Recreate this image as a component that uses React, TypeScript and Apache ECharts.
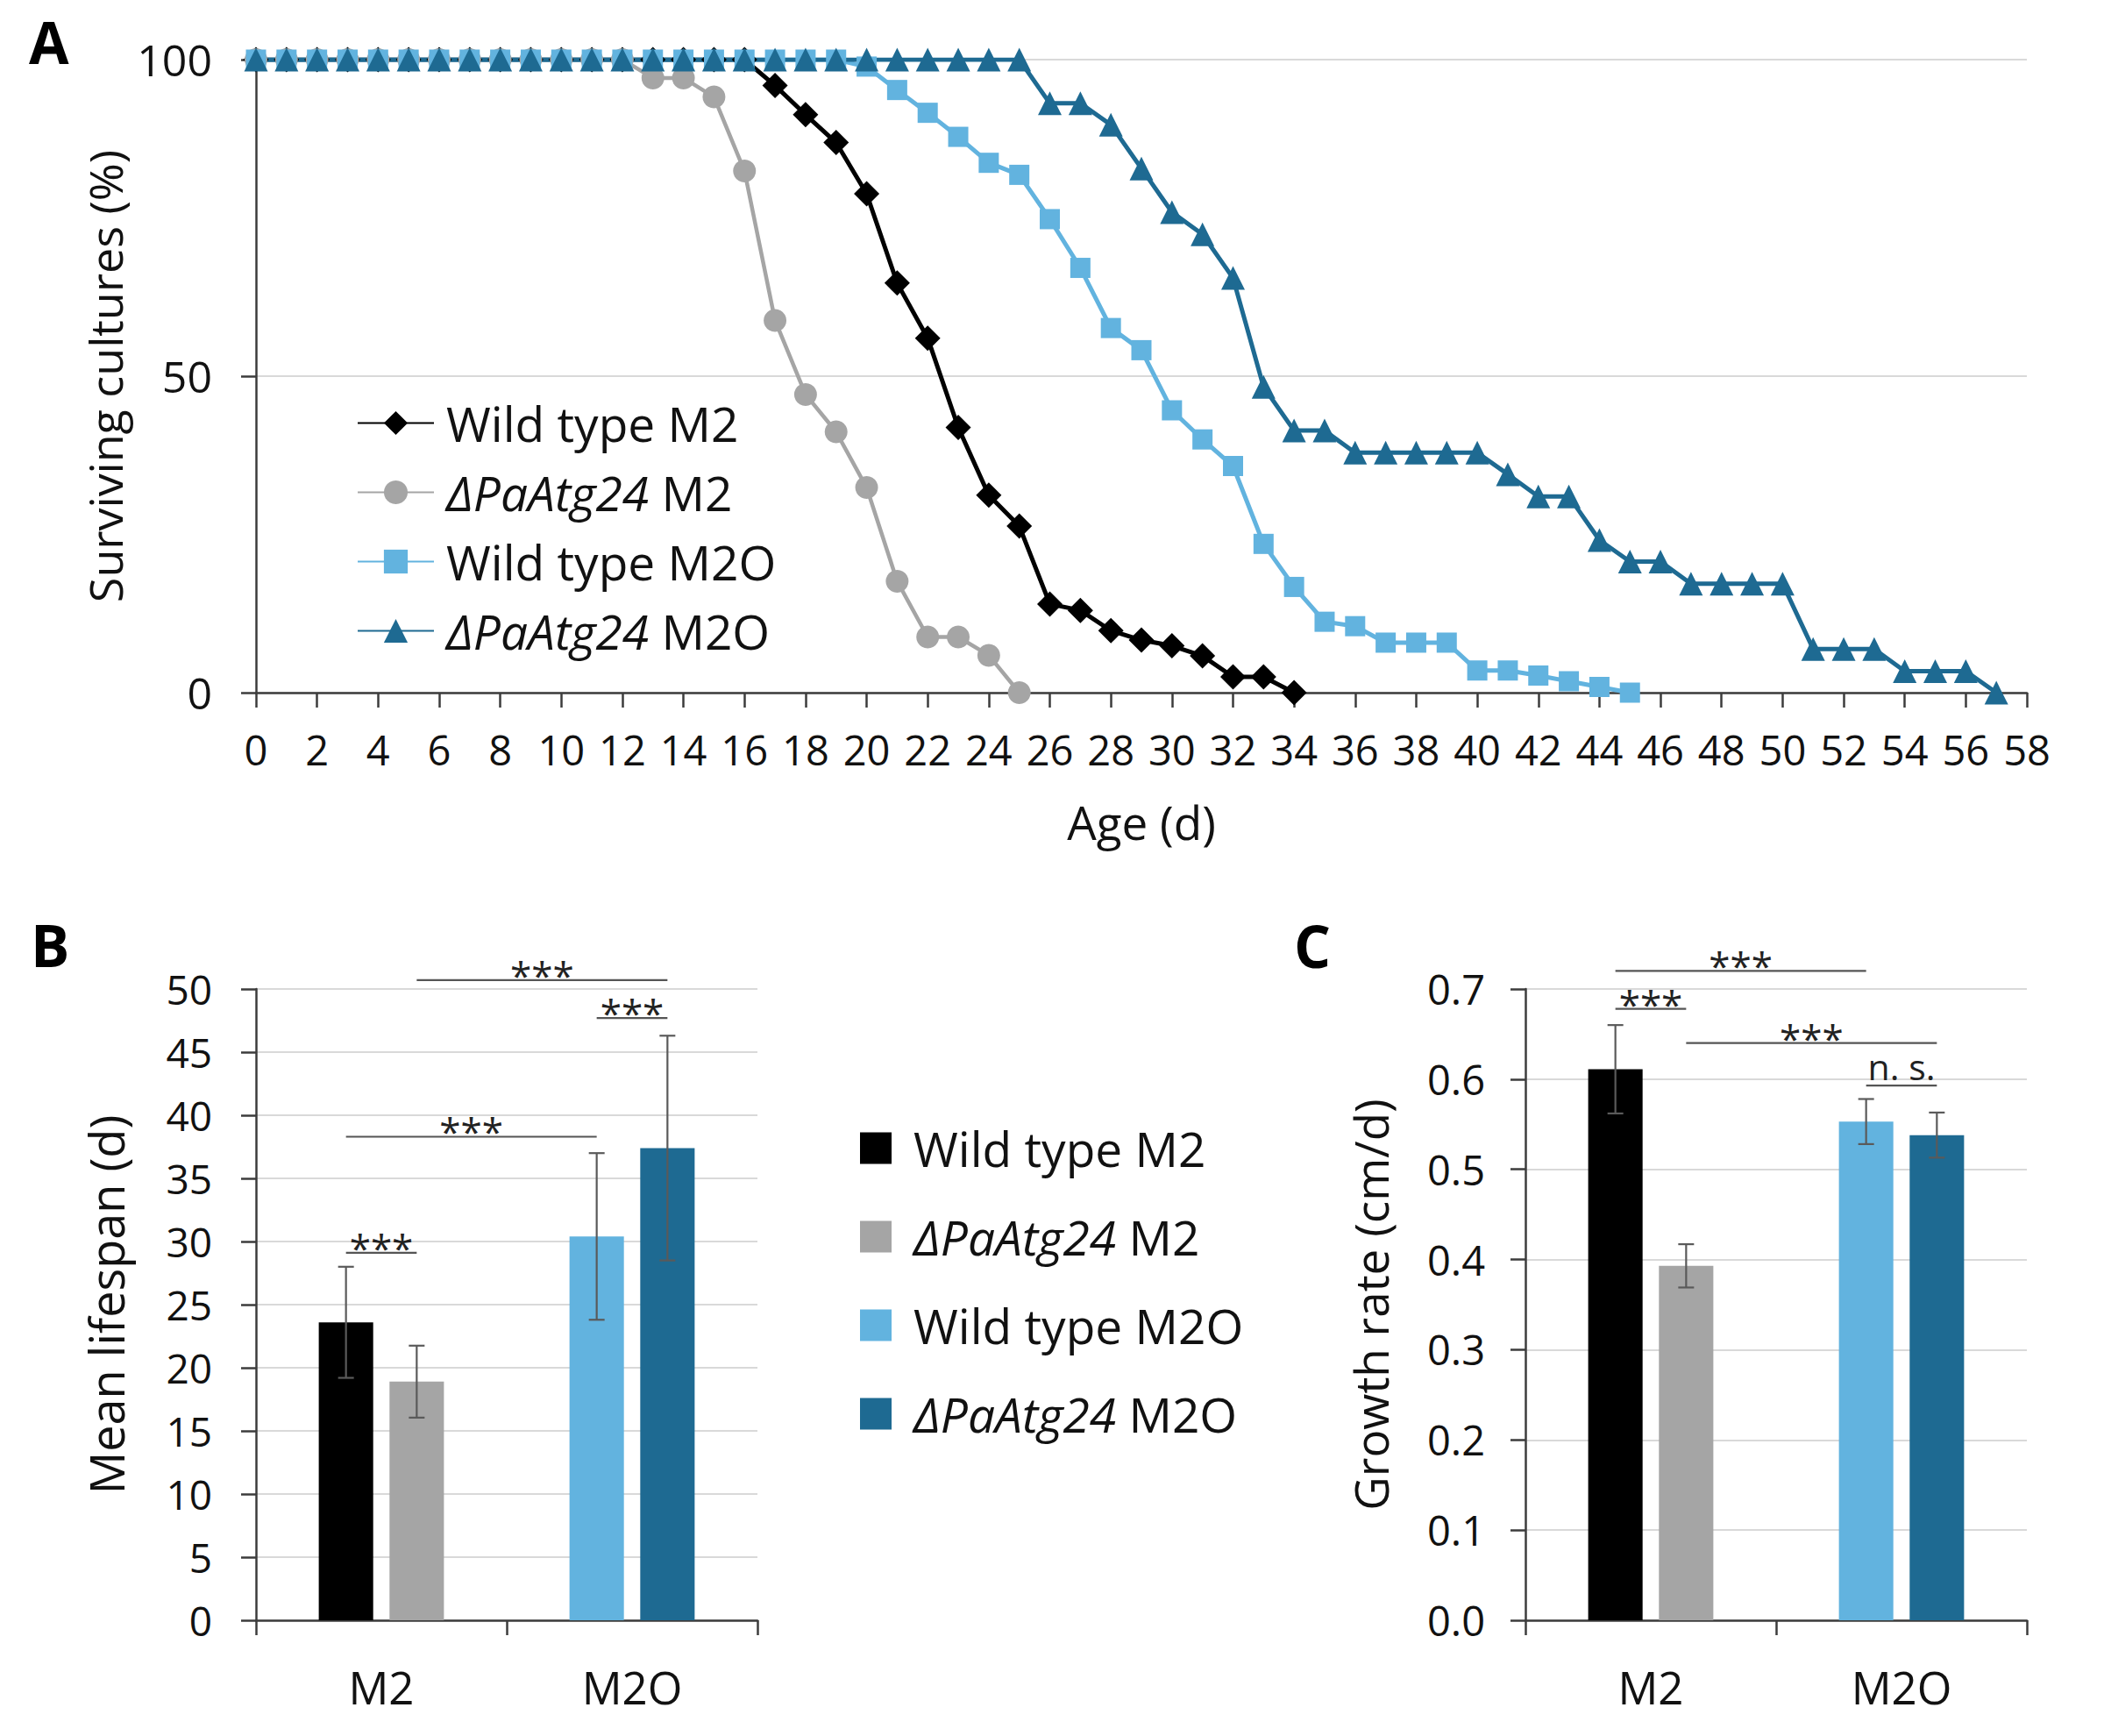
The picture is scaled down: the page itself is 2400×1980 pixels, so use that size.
import React, { useEffect, useRef } from "react";
import * as echarts from "echarts";

const FONT = '"Open Sans", "Noto Sans", "DejaVu Sans", sans-serif';
const TEXT = "#111111";
const AXIS = "#3c3c3c";
const GRIDC = "#d9d9d9";
const ERRC = "#5a5a5a";
const COLORS = ["#000000", "#a5a5a5", "#62b3df", "#1e6a92"];
const SYMBOLS = ["diamond", "circle", "rect", "triangle"];
const SYMBOL_SIZES = [29, 26, 23, 27];
const LINE_WIDTHS = [5, 4.5, 5, 5];

const SERIES_NAMES = ["Wild type M2", "ΔPaAtg24 M2", "Wild type M2O", "ΔPaAtg24 M2O"];
const BAR_NAMES = SERIES_NAMES.map((n) => "bar:" + n);

// Panel A: surviving cultures (%) per day (index = age in days)
const WT_M2 = [
  100, 100, 100, 100, 100, 100, 100, 100, 100, 100, 100, 100, 100, 100, 100, 100, 100,
  95.9, 91.3, 86.9, 78.8, 64.7, 56.0, 41.9, 31.2, 26.3, 14.0, 13.0, 9.8, 8.3, 7.4, 5.8, 2.5, 2.5, 0,
];
const DEL_M2 = [
  100, 100, 100, 100, 100, 100, 100, 100, 100, 100, 100, 100, 100,
  97.1, 97.1, 94.1, 82.4, 58.8, 47.1, 41.2, 32.4, 17.6, 8.8, 8.8, 5.9, 0,
];
const WT_M2O = [
  100, 100, 100, 100, 100, 100, 100, 100, 100, 100, 100, 100, 100, 100, 100, 100, 100, 100, 100, 100,
  98.9, 95.2, 91.6, 87.8, 83.7, 81.8, 74.8, 67.1, 57.6, 54.1, 44.6, 40.0, 35.8, 23.5, 16.7, 11.2,
  10.5, 7.9, 7.9, 7.9, 3.5, 3.5, 2.7, 1.8, 0.9, 0,
];
const DEL_M2O = [
  100, 100, 100, 100, 100, 100, 100, 100, 100, 100, 100, 100, 100, 100, 100, 100, 100, 100, 100, 100,
  100, 100, 100, 100, 100, 100,
  93.1, 93.1, 89.7, 82.8, 75.9, 72.4, 65.5, 48.3, 41.4, 41.4, 37.9, 37.9, 37.9, 37.9, 37.9, 34.5,
  31.0, 31.0, 24.1, 20.7, 20.7, 17.2, 17.2, 17.2, 17.2, 6.9, 6.9, 6.9, 3.4, 3.4, 3.4, 0,
];
const SURVIVAL = [WT_M2, DEL_M2, WT_M2O, DEL_M2O];

// Panels B and C
const GROUPS = ["M2", "M2O"];
const BAR_CAT = [0, 0, 1, 1];
const BAR_SLOT = [-1, 1, -1, 1];

const LIFESPAN_MEAN = [23.6, 18.9, 30.4, 37.4];
const LIFESPAN_ERR = [4.4, 2.85, 6.6, 8.9];
const GROWTH_MEAN = [0.611, 0.393, 0.553, 0.538];
const GROWTH_ERR = [0.049, 0.024, 0.025, 0.025];

const B_BR_FROM = [0, 0, 2, 1];
const B_BR_TO = [1, 2, 3, 3];
const B_BR_Y = [29.1, 38.3, 47.7, 50.7];
const B_BR_LABEL = ["***", "***", "***", "***"];

const C_BR_FROM = [0, 0, 1, 2];
const C_BR_TO = [1, 2, 3, 3];
const C_BR_Y = [0.678, 0.72, 0.64, 0.593];
const C_BR_LABEL = ["***", "***", "***", "n. s."];

const BAR_W_FRAC = 0.217;
const BAR_GAP_FRAC = 0.3;
const OFFSET_FRAC = (BAR_W_FRAC * (1 + BAR_GAP_FRAC)) / 2;

function barX(api: any, cat: number, slot: number) {
  return api.coord([cat, 0])[0] + slot * api.size([1, 0])[0] * OFFSET_FRAC;
}

const errRender = (params: any, api: any) => {
  const cat = api.value(0);
  const m = api.value(1);
  const e = api.value(2);
  const slot = api.value(3);
  const x = barX(api, cat, slot);
  const yT = api.coord([cat, m + e])[1];
  const yB = api.coord([cat, m - e])[1];
  const cap = 9;
  const st = { stroke: ERRC, lineWidth: 2.2 };
  return {
    type: "group",
    children: [
      { type: "line", shape: { x1: x, y1: yT, x2: x, y2: yB }, style: st },
      { type: "line", shape: { x1: x - cap, y1: yT, x2: x + cap, y2: yT }, style: st },
      { type: "line", shape: { x1: x - cap, y1: yB, x2: x + cap, y2: yB }, style: st },
    ],
  };
};

const makeBracketRender = (froms: number[], tos: number[], labels: string[]) => (params: any, api: any) => {
  const i = params.dataIndex;
  const x1 = barX(api, BAR_CAT[froms[i]], BAR_SLOT[froms[i]]);
  const x2 = barX(api, BAR_CAT[tos[i]], BAR_SLOT[tos[i]]);
  const y = api.coord([0, api.value(1)])[1];
  const isStar = labels[i].indexOf("*") >= 0;
  return {
    type: "group",
    children: [
      { type: "line", shape: { x1, y1: y, x2, y2: y }, style: { stroke: "#555555", lineWidth: 2.2 } },
      {
        type: "text",
        style: {
          text: labels[i],
          x: (x1 + x2) / 2,
          y: y - (isStar ? 6 : 22),
          align: "center",
          verticalAlign: "middle",
          fontSize: isStar ? 44 : 41,
          fontFamily: FONT,
          fill: "#222222",
        },
      },
    ],
  };
};

const legendFormatter = (name: string) => {
  const n = name.replace("bar:", "");
  return n.indexOf("Δ") === 0 ? "{i|ΔPaAtg24}" + n.slice(8) : n;
};

const legendText = (size: number, padLeft: number) => ({
  fontSize: size,
  fontFamily: FONT,
  color: TEXT,
  padding: [0, 0, 0, padLeft],
  rich: { i: { fontStyle: "italic", fontSize: size, fontFamily: FONT, color: TEXT } },
});

const axisLineStyle = { show: true, lineStyle: { color: AXIS, width: 2.5 } };
const axisTickStyle = { show: true, length: 17, lineStyle: { color: AXIS, width: 2.5 } };

function buildOption() {
  const lineSeries = SURVIVAL.map((arr, k) => ({
    type: "line",
    name: SERIES_NAMES[k],
    xAxisIndex: 0,
    yAxisIndex: 0,
    data: arr.map((v, i) => [i, v]),
    symbol: SYMBOLS[k],
    symbolSize: SYMBOL_SIZES[k],
    showSymbol: true,
    lineStyle: { color: COLORS[k], width: LINE_WIDTHS[k] },
    itemStyle: { color: COLORS[k] },
    emphasis: { disabled: true },
  }));

  const barSeries = (axisIdx: number, means: number[], prefix: string) =>
    means.map((m, k) => ({
      type: "bar",
      name: BAR_NAMES[k],
      xAxisIndex: axisIdx,
      yAxisIndex: axisIdx,
      stack: prefix + (BAR_SLOT[k] < 0 ? "L" : "R"),
      data: GROUPS.map((g, c) => (c === BAR_CAT[k] ? m : "-")),
      barWidth: BAR_W_FRAC * 100 + "%",
      barGap: BAR_GAP_FRAC * 100 + "%",
      itemStyle: { color: COLORS[k] },
      emphasis: { disabled: true },
    }));

  const errSeries = (axisIdx: number, means: number[], errs: number[]) => ({
    type: "custom",
    xAxisIndex: axisIdx,
    yAxisIndex: axisIdx,
    data: means.map((m, k) => [BAR_CAT[k], m, errs[k], BAR_SLOT[k]]),
    encode: { x: 0, y: 1 },
    renderItem: errRender,
    silent: true,
    z: 5,
  });

  const bracketSeries = (axisIdx: number, ys: number[], froms: number[], tos: number[], labels: string[]) => ({
    type: "custom",
    xAxisIndex: axisIdx,
    yAxisIndex: axisIdx,
    data: ys.map((y, i) => [BAR_CAT[froms[i]], y]),
    encode: { x: 0, y: 1 },
    renderItem: makeBracketRender(froms, tos, labels),
    clip: false,
    silent: true,
    z: 6,
  });

  const yName = (name: string, gap: number, size: number) => ({
    name,
    nameLocation: "middle",
    nameGap: gap,
    nameTextStyle: { fontSize: size, fontFamily: FONT, color: TEXT },
  });

  return {
    animation: false,
    backgroundColor: "#ffffff",
    textStyle: { fontFamily: FONT },
    grid: [
      { left: 292, top: 68, width: 2020, height: 722, outerBoundsMode: "none" },
      { left: 292, top: 1128, width: 572, height: 720, outerBoundsMode: "none" },
      { left: 1740, top: 1128, width: 572, height: 720, outerBoundsMode: "none" },
    ],
    xAxis: [
      {
        gridIndex: 0,
        type: "value",
        min: 0,
        max: 58,
        interval: 2,
        axisLine: axisLineStyle,
        axisTick: axisTickStyle,
        splitLine: { show: false },
        axisLabel: { fontSize: 47, fontFamily: FONT, color: TEXT, margin: 41 },
        name: "Age (d)",
        nameLocation: "middle",
        nameGap: 121,
        nameTextStyle: { fontSize: 53, fontFamily: FONT, color: TEXT },
      },
      {
        gridIndex: 1,
        type: "category",
        data: GROUPS,
        axisLine: axisLineStyle,
        axisTick: { ...axisTickStyle, alignWithLabel: false },
        axisLabel: { fontSize: 51, fontFamily: FONT, color: TEXT, margin: 50 },
      },
      {
        gridIndex: 2,
        type: "category",
        data: GROUPS,
        axisLine: axisLineStyle,
        axisTick: { ...axisTickStyle, alignWithLabel: false },
        axisLabel: { fontSize: 51, fontFamily: FONT, color: TEXT, margin: 50 },
      },
    ],
    yAxis: [
      {
        gridIndex: 0,
        type: "value",
        min: 0,
        max: 100,
        interval: 50,
        axisLine: axisLineStyle,
        axisTick: axisTickStyle,
        splitLine: { show: true, lineStyle: { color: GRIDC, width: 2 } },
        axisLabel: { fontSize: 50, fontFamily: FONT, color: TEXT, margin: 50 },
        ...yName("Surviving cultures (%)", 146, 52),
      },
      {
        gridIndex: 1,
        type: "value",
        min: 0,
        max: 50,
        interval: 5,
        axisLine: axisLineStyle,
        axisTick: axisTickStyle,
        splitLine: { show: true, lineStyle: { color: GRIDC, width: 2 } },
        axisLabel: { fontSize: 46, fontFamily: FONT, color: TEXT, margin: 50 },
        ...yName("Mean lifespan (d)", 144, 54),
      },
      {
        gridIndex: 2,
        type: "value",
        min: 0,
        max: 0.7,
        interval: 0.1,
        axisLine: axisLineStyle,
        axisTick: axisTickStyle,
        splitLine: { show: true, lineStyle: { color: GRIDC, width: 2 } },
        axisLabel: {
          fontSize: 47,
          fontFamily: FONT,
          color: TEXT,
          margin: 46,
          formatter: (v: number) => v.toFixed(1),
        },
        ...yName("Growth rate (cm/d)", 150, 53),
      },
    ],
    legend: [
      {
        orient: "vertical",
        left: 402,
        top: 450,
        itemWidth: 87,
        itemHeight: 34,
        itemGap: 24,
        data: SERIES_NAMES,
        formatter: legendFormatter,
        textStyle: legendText(55, 9),
        selectedMode: false,
      },
      {
        orient: "vertical",
        left: 976,
        top: 1277,
        itemWidth: 36,
        itemHeight: 36,
        itemGap: 46,
        icon: "rect",
        data: BAR_NAMES,
        formatter: legendFormatter,
        textStyle: legendText(55, 20),
        selectedMode: false,
      },
    ],
    graphic: [
      { type: "text", left: 33, top: 14, style: { text: "A", font: 'bold 66px "Open Sans", sans-serif', fill: "#000" } },
      { type: "text", left: 35, top: 1044, style: { text: "B", font: 'bold 66px "Open Sans", sans-serif', fill: "#000" } },
      { type: "text", left: 1476, top: 1045, style: { text: "C", font: 'bold 66px "Open Sans", sans-serif', fill: "#000" } },
    ],
    series: [
      ...lineSeries,
      ...barSeries(1, LIFESPAN_MEAN, "B"),
      ...barSeries(2, GROWTH_MEAN, "C"),
      errSeries(1, LIFESPAN_MEAN, LIFESPAN_ERR),
      errSeries(2, GROWTH_MEAN, GROWTH_ERR),
      bracketSeries(1, B_BR_Y, B_BR_FROM, B_BR_TO, B_BR_LABEL),
      bracketSeries(2, C_BR_Y, C_BR_FROM, C_BR_TO, C_BR_LABEL),
    ],
  };
}

export default function App() {
  const ref = useRef<HTMLDivElement>(null);
  useEffect(() => {
    if (!ref.current) return;
    const chart = echarts.init(ref.current, null, { renderer: "svg" });
    chart.setOption(buildOption() as any);
    return () => chart.dispose();
  }, []);
  return (
    <div
      ref={ref}
      style={{ position: "absolute", left: 0, top: 0, width: 2400, height: 1980, background: "#ffffff" }}
    />
  );
}
